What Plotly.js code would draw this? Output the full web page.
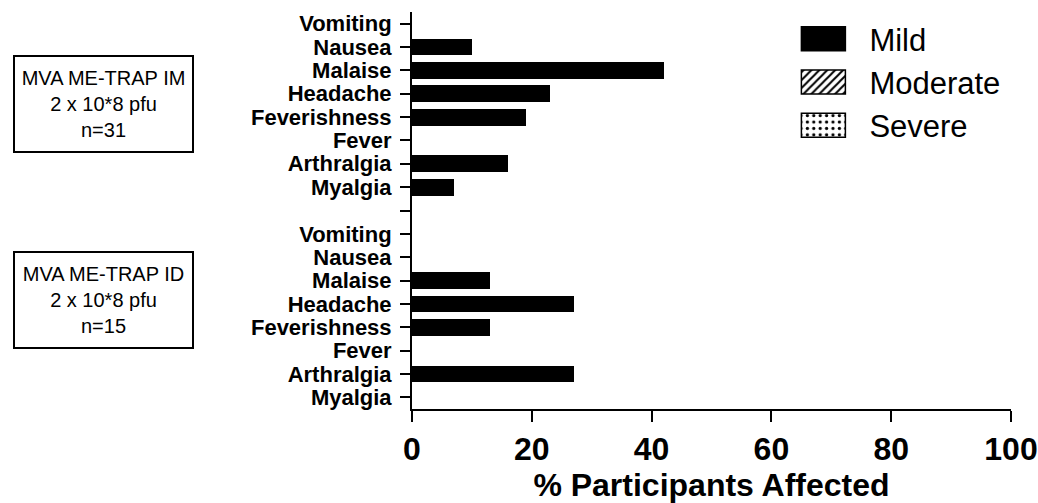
<!DOCTYPE html>
<html>
<head>
<meta charset="utf-8">
<script src="https://cdn.plot.ly/plotly-3.0.1.min.js"></script>
<style>html,body{margin:0;padding:0;background:#fff;}#chart{width:1038px;height:503px;}</style>
</head>
<body>
<div id="chart"></div>
<script>
// Data
const symptoms = ["Vomiting", "Nausea", "Malaise", "Headache", "Feverishness", "Fever", "Arthralgia", "Myalgia"];
const mildIM = [0, 10, 42, 23, 19, 0, 16, 7];
const mildID = [0, 0, 13, 27, 13, 0, 27, 0];
const moderateIM = [0, 0, 0, 0, 0, 0, 0, 0];
const moderateID = [0, 0, 0, 0, 0, 0, 0, 0];
const severeIM = [0, 0, 0, 0, 0, 0, 0, 0];
const severeID = [0, 0, 0, 0, 0, 0, 0, 0];
const groupIM = "MVA ME-TRAP IM<br>2 x 10*8 pfu<br>n=31";
const groupID = "MVA ME-TRAP ID<br>2 x 10*8 pfu<br>n=15";
const xTicks = [0, 20, 40, 60, 80, 100];

// positions: IM group, a blank row, ID group
const yIM = symptoms.map((s, i) => i);
const yID = symptoms.map((s, i) => symptoms.length + 1 + i);
const yAll = yIM.concat(yID);
const tickvals = yIM.concat([symptoms.length], yID);
const ticktext = symptoms.concat([""], symptoms);

const F = "Arial, 'Liberation Sans', sans-serif";

const traces = [
  {type: "bar", orientation: "h", name: "Mild", y: yAll, x: mildIM.concat(mildID),
   width: 0.72, marker: {color: "#000", line: {color: "#000", width: 0}}, legendgroup: "a"},
  {type: "bar", orientation: "h", name: "Moderate", y: yAll, x: moderateIM.concat(moderateID),
   width: 0.72, marker: {color: "#fff", line: {color: "#000", width: 0},
   pattern: {shape: "/", fgcolor: "#000", bgcolor: "#fff", size: 7, solidity: 0.35}}, legendgroup: "b"},
  {type: "bar", orientation: "h", name: "Severe", y: yAll, x: severeIM.concat(severeID),
   width: 0.72, marker: {color: "#fff", line: {color: "#000", width: 0},
   pattern: {shape: ".", fgcolor: "#000", bgcolor: "#fff", size: 8, solidity: 0.2}}, legendgroup: "c"}
];

const layout = {
  width: 1038, height: 503,
  margin: {l: 412, r: 27, t: 12, b: 94, pad: 0},
  paper_bgcolor: "#fff", plot_bgcolor: "#fff",
  barmode: "stack",
  showlegend: true,
  legend: {x: 0.61, y: 1.0, xanchor: "left", yanchor: "top", font: {family: F, size: 31, color: "#000"},
           itemwidth: 82, tracegroupgap: 10, bgcolor: "rgba(0,0,0,0)", traceorder: "normal"},
  xaxis: {range: [0, 100], tickvals: xTicks, showline: true, linecolor: "#000", linewidth: 2,
          ticks: "outside", ticklen: 11, tickwidth: 2, tickcolor: "#000", showgrid: false, zeroline: false,
          tickfont: {family: F, size: 32, weight: "bold", color: "#000"},
          title: {text: "% Participants Affected", font: {family: F, size: 32, weight: "bold", color: "#000"}, standoff: 10}},
  yaxis: {range: [symptoms.length * 2 + 0.5, -0.5], tickvals: tickvals, ticktext: ticktext,
          showline: true, linecolor: "#000", linewidth: 2, ticks: "outside", ticklen: 10, tickwidth: 2,
          tickcolor: "#000", showgrid: false, zeroline: false, ticklabelstandoff: 4,
          tickfont: {family: F, size: 22, weight: "bold", color: "#000"}},
  annotations: [
    {text: groupIM, xref: "paper", yref: "paper", x: -0.515, y: 0.768, xanchor: "center", yanchor: "middle",
     showarrow: false, font: {family: F, size: 20, color: "#000"}, bordercolor: "#000", borderwidth: 2, borderpad: 0,
     width: 177, height: 94, align: "center", valign: "middle"},
    {text: groupID, xref: "paper", yref: "paper", x: -0.515, y: 0.2736, xanchor: "center", yanchor: "middle",
     showarrow: false, font: {family: F, size: 20, color: "#000"}, bordercolor: "#000", borderwidth: 2, borderpad: 0,
     width: 177, height: 94, align: "center", valign: "middle"}
  ]
};

function bigSwatches() {
  document.querySelectorAll("#chart .legend .legendpoints path").forEach(p => {
    p.setAttribute("d", "M22,12H-22V-12H22Z");
    p.style.stroke = "#000";
    p.style.strokeWidth = "1.5px";
  });
}
const gd = document.getElementById("chart");
Plotly.newPlot(gd, traces, layout, {staticPlot: true, displayModeBar: false}).then(() => {
  bigSwatches();
  gd.on("plotly_afterplot", bigSwatches);
});
</script>
</body>
</html>
